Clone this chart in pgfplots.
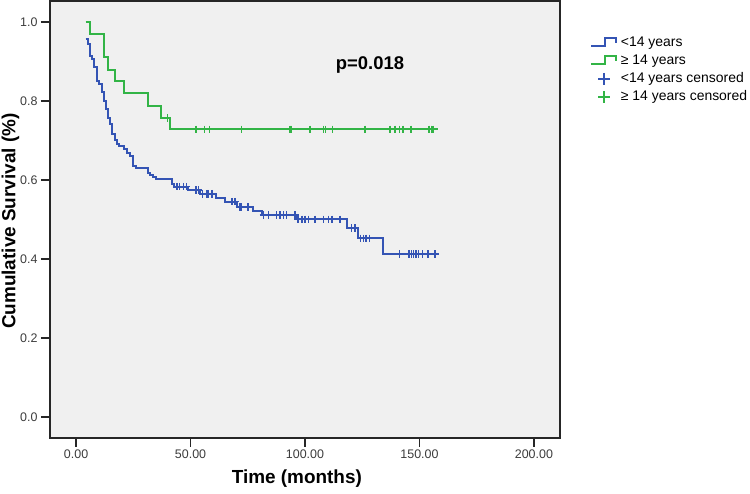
\documentclass[border=0pt]{standalone}
\usepackage{pgfplots}
\pgfplotsset{compat=1.18}
\usepackage{fontspec}
\setmainfont{Liberation Sans}
\definecolor{kmblue}{RGB}{52,84,180}
\definecolor{kmgreen}{RGB}{50,180,70}
\definecolor{panel}{RGB}{240,240,240}
\definecolor{ticktext}{RGB}{60,60,60}
\pgfplotsset{
  steplegend/.style={legend image code/.code={\draw[##1, #1] (0bp,-3.3bp) -- (14bp,-3.3bp) -- (14bp,4.4bp) -- (24.7bp,4.4bp) -- (24.7bp,0bp);}},
  censorlegend/.style={legend image code/.code={\draw[##1, #1, mark size=6bp] plot coordinates {(13bp,0bp)};}},
}
\begin{document}
\begin{tikzpicture}
\path[use as bounding box] (0,0) rectangle (750bp,494bp);
\begin{axis}[
  at={(50bp,56.3bp)}, anchor=south west,
  width=510bp, height=436.7bp, scale only axis,
  xmin=-11.4, xmax=211.4, ymin=-0.0524, ymax=1.053,
  axis background/.style={fill=panel},
  axis line style={line width=1.8bp, draw=black!85},
  xtick={0,50,...,200}, ytick={0,0.2,0.4,0.6,0.8,1.0},
  tick pos=left, tick align=outside, major tick length=9bp,
  tick style={line width=1.5bp, draw=black!85},
  /pgf/number format/assume math mode=true,
  xticklabel style={/pgf/number format/.cd, fixed, fixed zerofill, precision=2},
  yticklabel style={/pgf/number format/.cd, fixed, fixed zerofill, precision=1},
  ticklabel style={font=\fontsize{12.5}{14}\selectfont, text=ticktext},
  xlabel={\textbf{Time (months)}},
  ylabel={\textbf{Cumulative Survival (\%)}},
  label style={font=\fontsize{19}{21}\selectfont},
  xlabel style={at={(axis description cs:0.484,-0.0946)}, anchor=center},
  ylabel style={at={(axis description cs:-0.0775,0.496)}, anchor=center},
  legend style={at={(axis description cs:1.0588,0.922)}, anchor=north west,
    draw=none, fill=none, inner sep=0pt, row sep=3bp, column sep=3bp,
    font=\fontsize{14}{14}\selectfont,
    nodes={inner sep=1bp, text height=10bp, text depth=3bp, anchor=west}},
  legend cell align=left,
]
\addplot[kmblue, line width=2bp, const plot, steplegend=kmblue]
coordinates {
(4.2,0.956) (5.1,0.944) (6.1,0.914) (7.0,0.906) (8.0,0.885) (9.0,0.850)
(10.2,0.843) (11.1,0.822) (12.1,0.801) (13.0,0.779) (14.0,0.758) (15.0,0.741)
(15.9,0.716) (16.9,0.700) (17.9,0.691) (18.9,0.686) (20.9,0.678) (22.2,0.669)
(23.5,0.661) (24.7,0.635) (26.0,0.630) (31.2,0.618) (32.4,0.613) (33.7,0.608)
(35.0,0.602) (41.7,0.590) (42.8,0.583) (49.1,0.575) (54.0,0.565) (61.1,0.554)
(65.1,0.545) (70.2,0.532) (77.4,0.521) (81.1,0.511) (96.4,0.500) (118.2,0.478)
(123.3,0.452) (134.0,0.413) (158.6,0.413)
};
\addlegendentry{<14 years}
\addplot[kmgreen, line width=2bp, const plot, steplegend=kmgreen]
coordinates {
(4.2,1.000) (6.1,0.970) (12.1,0.910) (13.8,0.879) (17.2,0.850) (20.8,0.820)
(31.3,0.787) (37.1,0.757) (41.0,0.728) (157.9,0.728)
};
\addlegendentry{≥ 14 years}
\addplot[kmblue, only marks, mark=+, mark size=3.8bp, line width=1.5bp,
  mark options={draw=kmblue}, censorlegend=kmblue]
coordinates {
(44.0,0.583) (45.1,0.583) (46.9,0.583) (48.3,0.583)
(52.4,0.575) (53.4,0.575)
(55.3,0.565) (57.1,0.565) (57.8,0.565) (59.4,0.565)
(68.0,0.545) (69.4,0.545)
(71.3,0.532) (72.0,0.532) (75.2,0.532)
(81.8,0.511) (84.0,0.511) (87.6,0.511) (89.1,0.511) (90.5,0.511) (92.0,0.511) (95.6,0.511)
(97.0,0.500) (98.6,0.500) (100.0,0.500) (101.5,0.500) (104.4,0.500) (108.0,0.500)
(110.2,0.500) (111.7,0.500) (115.3,0.500)
(120.4,0.478) (121.8,0.478)
(124.3,0.452) (125.5,0.452) (126.6,0.452) (128.1,0.452)
(141.2,0.413) (145.5,0.413) (146.6,0.413) (147.3,0.413) (148.5,0.413)
(149.5,0.413) (151.4,0.413) (153.8,0.413) (156.8,0.413)
};
\addlegendentry{<14 years censored}
\addplot[kmgreen, only marks, mark=+, mark size=3.8bp, line width=1.5bp,
  mark options={draw=kmgreen}, censorlegend=kmgreen]
coordinates {
(40.0,0.757)
(52.4,0.728) (56.0,0.728) (58.2,0.728) (72.3,0.728) (93.4,0.728) (94.2,0.728)
(102.2,0.728) (108.0,0.728) (109.0,0.728) (112.1,0.728) (126.2,0.728)
(137.1,0.728) (139.3,0.728) (141.2,0.728) (142.9,0.728) (146.3,0.728)
(154.1,0.728) (155.3,0.728) (156.0,0.728)
};
\addlegendentry{≥ 14 years censored}
\node[font=\bfseries\fontsize{18.5}{20}\selectfont, anchor=center] at (axis cs:128.4,0.891) {p=0.018};
\end{axis}
\end{tikzpicture}
\end{document}
